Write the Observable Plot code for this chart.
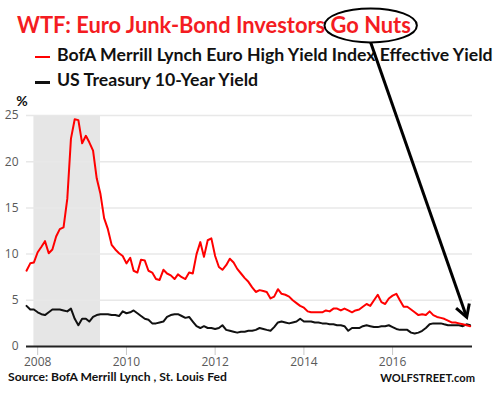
<!DOCTYPE html>
<html>
<head>
<meta charset="utf-8">
<script src="https://cdn.jsdelivr.net/npm/d3@7"></script>
<script src="https://cdn.jsdelivr.net/npm/@observablehq/plot@0.6"></script>
<style>
  html, body { margin: 0; padding: 0; background: #fff; }
  body { width: 496px; height: 396px; position: relative; overflow: hidden; font-family: Lato, "Open Sans", sans-serif; }
  .t { position: absolute; white-space: nowrap; font-weight: bold; }
  #title { left: 17px; color: #f41c22; }
  #leg1, #leg2 { left: 57px; color: #111; }
  #src { left: 8px; color: #111; }
  #ws { color: #111; }
  .sw { position: absolute; left: 35px; width: 15px; }
  #chart { position: absolute; left: 0; top: 92px; }
  #chart svg { display: block; }
  #overlay { position: absolute; left: 0; top: 0; pointer-events: none; }
</style>
</head>
<body>
<div id="title" class="t">WTF: Euro Junk-Bond Investors <span id="gn">Go Nuts</span></div>
<div class="sw" id="sw1"></div>
<div id="leg1" class="t">BofA Merrill Lynch Euro High Yield Index Effective Yield</div>
<div class="sw" id="sw2"></div>
<div id="leg2" class="t">US Treasury 10-Year Yield</div>
<div id="chart"></div>
<div id="src" class="t">Source: BofA Merrill Lynch , St. Louis Fed</div>
<div id="ws" class="t">WOLFSTREET.com</div>
<script>
// ---- data (monthly, Oct 2007 – Oct 2017) ----
const seriesStart = "2007-10-01";
const seriesEnd = "2017-10-01";
const euroHighYield = [
  8.2, 9.0, 9.1,
  10.2, 10.8, 11.4, 10.1, 10.5, 11.9, 12.7, 12.9, 16.0, 22.5, 24.6, 24.5,
  22.0, 22.8, 22.1, 21.2, 18.2, 16.5, 13.9, 12.7, 11.0, 10.5, 10.1, 9.8,
  9.0, 9.6, 8.2, 8.0, 9.4, 9.3, 8.2, 8.0, 7.3, 7.2, 8.3, 7.9,
  7.7, 7.3, 7.8, 7.5, 7.3, 8.0, 7.9, 10.0, 11.3, 9.7, 11.5, 11.7,
  9.8, 8.6, 8.3, 8.8, 9.5, 9.1, 8.4, 7.9, 7.4, 7.0, 6.4, 5.9,
  6.1, 6.0, 5.9, 5.2, 5.4, 6.2, 5.7, 5.6, 5.4, 5.0, 4.7, 4.4,
  4.2, 3.8, 3.7, 3.7, 3.7, 3.7, 3.9, 3.8, 4.1, 4.1, 3.9, 4.1,
  3.9, 3.7, 3.9, 4.0, 4.3, 4.6, 4.4, 5.0, 5.6, 4.8, 4.6, 5.2,
  5.5, 5.7, 5.0, 4.3, 4.3, 4.0, 3.7, 3.4, 3.5, 3.4, 3.8, 3.4,
  3.2, 3.1, 3.0, 2.8, 2.6, 2.6, 2.5, 2.4, 2.3, 2.2
];
const usTreasury10y = [
  4.4, 4.0, 4.0,
  3.7, 3.5, 3.4, 3.7, 4.0, 4.0, 4.0, 3.9, 3.8, 4.1, 3.0, 2.3,
  3.0, 3.0, 2.7, 3.2, 3.4, 3.5, 3.5, 3.5, 3.4, 3.4, 3.3, 3.8,
  3.6, 3.7, 3.9, 3.6, 3.3, 3.0, 2.9, 2.5, 2.5, 2.6, 2.7, 3.2,
  3.4, 3.5, 3.5, 3.3, 3.1, 3.2, 2.7, 2.2, 2.0, 2.2, 2.0, 2.0,
  1.9, 2.0, 2.3, 1.8, 1.7, 1.6, 1.5, 1.6, 1.6, 1.7, 1.7, 1.8,
  2.0, 1.9, 1.8, 1.7, 2.1, 2.6, 2.7, 2.6, 2.5, 2.6, 2.7, 3.0,
  2.7, 2.7, 2.7, 2.6, 2.6, 2.5, 2.5, 2.4, 2.4, 2.3, 2.3, 2.2,
  1.7, 2.0, 2.0, 2.0, 2.2, 2.3, 2.2, 2.1, 2.1, 2.2, 2.2, 2.3,
  2.1, 1.9, 1.8, 1.8, 1.8, 1.5, 1.4, 1.5, 1.7, 2.0, 2.4, 2.5,
  2.5, 2.5, 2.4, 2.3, 2.3, 2.3, 2.3, 2.2, 2.4, 2.3
];
const recession = ["2007-12-01", "2009-06-01"];
const xDomain = ["2007-10-01", "2017-10-20"];
const yTicks = [0, 5, 10, 15, 20, 25];
const yearTicks = ["2008", "2010", "2012", "2014", "2016"];
const seriesNames = ["BofA Merrill Lynch Euro High Yield Index Effective Yield", "US Treasury 10-Year Yield"];
const seriesColors = ["#ff0000", "#111111"];

// ---- build table ----
const parse = d3.utcParse("%Y-%m-%d");
const months = d3.utcMonth.range(parse(seriesStart), d3.utcMonth.offset(parse(seriesEnd), 1));
const red = months.map((d, i) => ({date: d, value: euroHighYield[i]}));
const black = months.map((d, i) => ({date: d, value: usTreasury10y[i]}));

const chart = Plot.plot({
  width: 496,
  height: 278,
  marginTop: 23,
  marginBottom: 24,
  marginLeft: 26,
  marginRight: 24,
  style: {fontFamily: "'Open Sans', sans-serif", fontSize: "12px", background: "#fff", overflow: "visible"},
  x: {type: "utc", domain: xDomain.map(parse)},
  y: {domain: [0, 25]},
  marks: [
    Plot.rect([{a: parse(recession[0]), b: parse(recession[1])}], {x1: "a", x2: "b", y1: 0, y2: 25, fill: "#e6e6e6"}),
    Plot.gridY(yTicks.slice(1), {stroke: "#e8e8e8", strokeOpacity: 1, strokeWidth: 1.5}),
    Plot.axisY({ticks: yTicks, tickSize: 0, tickPadding: 8, label: null, color: "#595959"}),
    Plot.axisX({ticks: yearTicks.map(y => d3.utcParse("%Y")(y)), tickFormat: d3.utcFormat("%Y"), tickSize: 9, tickPadding: 2, stroke: "#c8c8c8", color: "#595959", label: null}),
    Plot.ruleY([0], {stroke: "#222", strokeWidth: 2}),
    Plot.line(black, {x: "date", y: "value", stroke: seriesColors[1], strokeWidth: 2}),
    Plot.line(red, {x: "date", y: "value", stroke: seriesColors[0], strokeWidth: 2}),
    Plot.text(["%"], {frameAnchor: "top-left", dx: -4.5, dy: -14, textAnchor: "middle", lineAnchor: "middle", fontWeight: "bold", fill: "#111", fontSize: 14, fontFamily: "Lato, sans-serif"})
  ]
});
document.getElementById("chart").appendChild(chart);

// ---- text placement (Lato metrics: ascent .987em) ----
function place(el, baseline, size) {
  el.style.fontSize = size + "px";
  el.style.lineHeight = (1.2 * size) + "px";
  el.style.top = (baseline - 0.987 * size) + "px";
}
function fitSize(el, target, base) {
  el.style.fontSize = base + "px";
  const w = el.getBoundingClientRect().width;
  return base * target / w;
}
const title = document.getElementById("title");
place(title, 34, fitSize(title, 394, 20));
const leg1 = document.getElementById("leg1"), leg2 = document.getElementById("leg2");
const ls = fitSize(leg1, 436, 16);
place(leg1, 61.7, ls);
place(leg2, 86.7, ls);
const sw1 = document.getElementById("sw1"), sw2 = document.getElementById("sw2");
sw1.style.top = "56px"; sw1.style.height = "2px"; sw1.style.background = seriesColors[0];
sw2.style.top = "81px"; sw2.style.height = "3px"; sw2.style.background = seriesColors[1];
const src = document.getElementById("src");
place(src, 381.7, fitSize(src, 219, 11));
const ws = document.getElementById("ws");
const wsz = fitSize(ws, 95, 11);
place(ws, 381.7, wsz);
ws.style.left = (475 - ws.getBoundingClientRect().width) + "px";

// ---- annotation: ellipse round "Go Nuts" and arrow to latest value ----
const gn = document.getElementById("gn").getBoundingClientRect();
const cx = gn.left + gn.width / 2, cy = gn.top + gn.height / 2 + 0.5;
const rx = gn.width / 2 + 6, ry = 17;
const ov = d3.select("body").append("svg").attr("id", "overlay").attr("width", 496).attr("height", 396);
ov.append("ellipse").attr("cx", cx).attr("cy", cy).attr("rx", rx).attr("ry", ry)
  .attr("fill", "none").attr("stroke", "#000").attr("stroke-width", 2);
const svgTop = chart.getBoundingClientRect().top;
const svgLeft = chart.getBoundingClientRect().left;
const last = red[red.length - 1];
const tx = svgLeft + chart.scale("x").apply(last.date) - 3;
const ty = svgTop + chart.scale("y").apply(last.value) - 8.5;
const sx = cx, sy = cy + ry;
ov.append("line").attr("x1", sx).attr("y1", sy).attr("x2", tx).attr("y2", ty)
  .attr("stroke", "#000").attr("stroke-width", 3);
const ang = Math.atan2(sy - ty, sx - tx);
const hl = 14, ha = 30 * Math.PI / 180;
ov.append("path")
  .attr("d", `M${tx + hl * Math.cos(ang - ha)},${ty + hl * Math.sin(ang - ha)} L${tx},${ty} L${tx + hl * Math.cos(ang + ha)},${ty + hl * Math.sin(ang + ha)}`)
  .attr("fill", "none").attr("stroke", "#000").attr("stroke-width", 3).attr("stroke-linejoin", "miter");
</script>
</body>
</html>
